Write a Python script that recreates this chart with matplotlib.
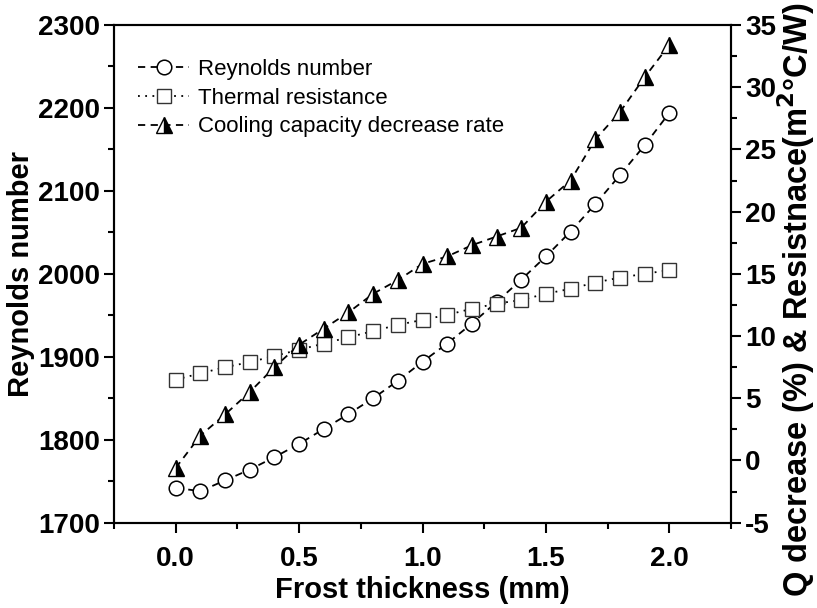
import matplotlib
matplotlib.use("Agg")
import matplotlib.pyplot as plt
from matplotlib.ticker import MultipleLocator

plt.rcParams['font.family'] = ['Liberation Sans', 'DejaVu Sans']
plt.rcParams['axes.unicode_minus'] = False

thickness = [0.0, 0.1, 0.2, 0.3, 0.4, 0.5, 0.6, 0.7, 0.8, 0.9, 1.0,
             1.1, 1.2, 1.3, 1.4, 1.5, 1.6, 1.7, 1.8, 1.9, 2.0]
reynolds = [1742, 1738, 1751, 1764, 1779, 1795, 1813, 1831, 1850, 1871, 1894,
            1916, 1940, 1966, 1993, 2021, 2051, 2084, 2119, 2155, 2194]
resistance = [6.5, 7.0, 7.5, 7.9, 8.4, 8.9, 9.4, 9.9, 10.4, 10.9, 11.3,
              11.7, 12.2, 12.6, 12.9, 13.4, 13.8, 14.3, 14.7, 15.0, 15.3]
q_decrease = [-0.6, 2.0, 3.7, 5.5, 7.5, 9.3, 10.6, 11.9, 13.4, 14.5, 15.8,
              16.4, 17.3, 18.0, 18.7, 20.8, 22.5, 25.8, 28.0, 30.8, 33.4]

labels = ["Reynolds number", "Thermal resistance", "Cooling capacity decrease rate"]

fig = plt.figure(figsize=(8.17, 6.08), dpi=100)
ax = fig.add_axes([114/817, 85.3/608, (731-114)/817, (522.7-25)/608])
ax2 = ax.twinx()

lw = 1.3
l1, = ax.plot(thickness, reynolds, linestyle=(0, (4, 3)), color='black', lw=lw,
              marker='o', markersize=10.5, markerfacecolor='white',
              markeredgecolor='black', markeredgewidth=1.1, label=labels[0])
l2, = ax2.plot(thickness, resistance, linestyle=(0, (1, 3)), color='black', lw=lw,
               marker='s', markersize=9.5, markerfacecolor='white',
               markeredgecolor='#333333', markeredgewidth=1.0, label=labels[1])
l3, = ax2.plot(thickness, q_decrease, linestyle=(0, (4, 3)), color='black', lw=lw,
               marker='^', markersize=11, fillstyle='right',
               markerfacecolor='black', markerfacecoloralt='white',
               markeredgecolor='black', markeredgewidth=1.0, label=labels[2])

ax.set_xlim(-0.25, 2.25)
ax.set_ylim(1700, 2300)
ax2.set_ylim(-5, 35)

ax.xaxis.set_major_locator(MultipleLocator(0.5))
ax.xaxis.set_minor_locator(MultipleLocator(0.25))
ax.yaxis.set_major_locator(MultipleLocator(100))
ax.yaxis.set_minor_locator(MultipleLocator(50))
ax2.yaxis.set_major_locator(MultipleLocator(5))
ax2.yaxis.set_minor_locator(MultipleLocator(2.5))
ax.set_xticks([0.0, 0.5, 1.0, 1.5, 2.0])
ax.set_xticklabels(["0.0", "0.5", "1.0", "1.5", "2.0"])

for a in (ax, ax2):
    for s in a.spines.values():
        s.set_linewidth(1.5)
    a.tick_params(which='major', direction='out', length=7, width=1.5,
                  labelsize=20, pad=3)
    a.tick_params(which='minor', direction='out', length=4.5, width=1.5)
    for t in a.get_xticklabels() + a.get_yticklabels():
        t.set_fontweight('bold')

ax.tick_params(axis='x', pad=10)

ax.set_xlabel("Frost thickness (mm)", fontsize=21, fontweight='bold', labelpad=3)
ax.set_ylabel("Reynolds number", fontsize=21, fontweight='bold', labelpad=2)
fig.text(796/817, 1 - 300/608, "Q decrease (%) & Resistnace(m$\\mathbf{^2}$°C/W)",
         fontsize=23.5, fontweight='bold', rotation=90, ha='center', va='center')

leg = ax.legend(handles=[l1, l2, l3], loc='upper left', frameon=False,
                fontsize=16, handlelength=2.3, handletextpad=0.4,
                labelspacing=0.34, borderaxespad=0.4,
                bbox_to_anchor=(0.01, 0.967))

fig.savefig("out.png", dpi=100)
